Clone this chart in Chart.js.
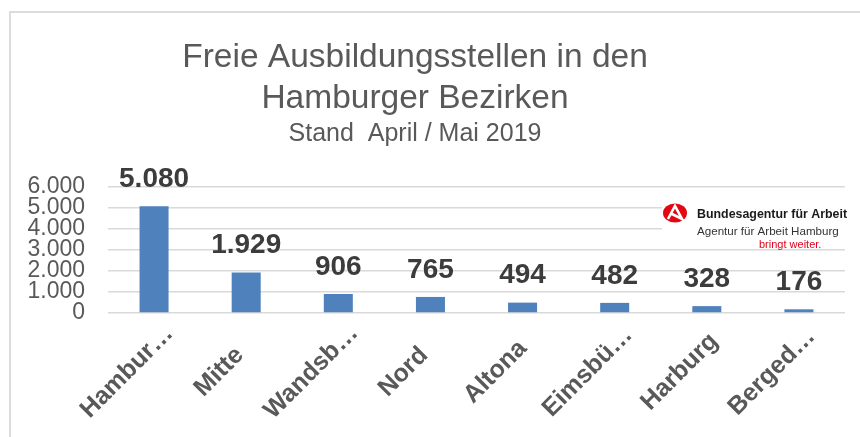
<!DOCTYPE html>
<html>
<head>
<meta charset="utf-8">
<script src="https://cdn.jsdelivr.net/npm/chart.js@4/dist/chart.umd.min.js"></script>
<style>
  html, body { margin: 0; padding: 0; background: #fff; }
  #wrap { width: 860px; height: 437px; position: relative; }
</style>
</head>
<body>
<div id="wrap"><canvas id="chart" width="860" height="437"></canvas></div>
<script>
  const districts = ['Hambur\u2026', 'Mitte', 'Wandsb\u2026', 'Nord', 'Altona', 'Eimsb\u00fc\u2026', 'Harburg', 'Berged\u2026'];
  const openPlaces = [5080, 1929, 906, 765, 494, 482, 328, 176];
  const yTicks = [0, 1000, 2000, 3000, 4000, 5000, 6000];
  const titleLines = ['Freie Ausbildungsstellen in den', 'Hamburger Bezirken'];
  const subtitleText = 'Stand  April / Mai 2019';

  const FONT = '"Liberation Sans", Arial, sans-serif';
  const textColor = '#595959';
  const gridColor = '#d9d9d9';
  const barColor = '#4f81bd';

  function fmt(v) {
    return Number(v).toLocaleString('de-DE');
  }

  // light frame round the chart, as in the screenshot
  const framePlugin = {
    id: 'frame',
    beforeDraw: function (chart) {
      const ctx = chart.ctx;
      ctx.save();
      ctx.strokeStyle = '#dcdcdc';
      ctx.lineWidth = 2;
      ctx.beginPath();
      ctx.moveTo(10, chart.height + 2);
      ctx.lineTo(10, 12);
      ctx.lineTo(chart.width + 2, 12);
      ctx.stroke();
      ctx.restore();
    }
  };

  // value labels above the bars
  const valueLabels = {
    id: 'valueLabels',
    afterDatasetsDraw: function (chart) {
      const ctx = chart.ctx;
      const meta = chart.getDatasetMeta(0);
      ctx.save();
      ctx.font = 'bold 28px ' + FONT;
      ctx.fillStyle = '#3c3c3c';
      ctx.textAlign = 'center';
      ctx.textBaseline = 'middle';
      meta.data.forEach(function (bar, i) {
        ctx.fillText(fmt(openPlaces[i]), bar.x, bar.y - 27);
      });
      ctx.restore();
    }
  };

  // category labels, rotated 45 degrees and centred like Excel does
  const categoryLabels = {
    id: 'categoryLabels',
    afterDraw: function (chart) {
      const ctx = chart.ctx;
      const xScale = chart.scales.x;
      ctx.save();
      ctx.font = 'bold 25px ' + FONT;
      ctx.fillStyle = textColor;
      ctx.textAlign = 'center';
      ctx.textBaseline = 'middle';
      districts.forEach(function (name, i) {
        const x = xScale.getPixelForTick(i);
        ctx.save();
        ctx.translate(x - 27, xScale.top + 59);
        ctx.rotate(-Math.PI / 4);
        ctx.fillText(name, 0, 0);
        ctx.restore();
      });
      ctx.restore();
    }
  };

  // agency logo in the top right of the plot
  const logoPlugin = {
    id: 'logo',
    afterDraw: function (chart) {
      const ctx = chart.ctx;
      ctx.save();
      ctx.fillStyle = '#fff';
      ctx.fillRect(662, 199, 198, 41);

      ctx.fillStyle = '#e30613';
      ctx.beginPath();
      ctx.ellipse(675, 213, 12, 9.5, 0, 0, Math.PI * 2);
      ctx.fill();
      ctx.strokeStyle = '#fff';
      ctx.lineWidth = 2.6;
      ctx.beginPath();
      ctx.moveTo(668, 219);
      ctx.lineTo(675, 206);
      ctx.lineTo(682, 219);
      ctx.lineTo(672, 214);
      ctx.stroke();

      ctx.textAlign = 'left';
      ctx.textBaseline = 'alphabetic';
      ctx.fillStyle = '#1a1a1a';
      ctx.font = 'bold 12.4px ' + FONT;
      ctx.fillText('Bundesagentur f\u00fcr Arbeit', 697, 218);
      ctx.fillStyle = '#333';
      ctx.font = '11.6px ' + FONT;
      ctx.fillText('Agentur f\u00fcr Arbeit Hamburg', 697, 235);
      ctx.fillStyle = '#e2001a';
      ctx.font = '11px ' + FONT;
      ctx.fillText('bringt weiter.', 759, 248);
      ctx.restore();
    }
  };

  new Chart(document.getElementById('chart'), {
    type: 'bar',
    data: {
      labels: districts,
      datasets: [
        {
          label: 'Freie Ausbildungsstellen',
          data: openPlaces,
          backgroundColor: barColor,
          borderWidth: 0,
          barPercentage: 0.315,
          categoryPercentage: 1,
        },
      ],
    },
    options: {
      responsive: false,
      animation: false,
      layout: { padding: { left: -15, right: 15, top: 0, bottom: 0 } },
      plugins: {
        legend: { display: false },
        tooltip: { enabled: false },
        title: {
          display: true,
          text: titleLines,
          color: textColor,
          font: { family: FONT, size: 33.5, weight: 'normal', lineHeight: '41.5px' },
          padding: { top: 37, bottom: 0 },
        },
        subtitle: {
          display: true,
          text: subtitleText,
          color: textColor,
          font: { family: FONT, size: 25, weight: 'normal', lineHeight: '28px' },
          padding: { top: 0.5, bottom: 38.5 },
        },
      },
      scales: {
        x: {
          grid: { display: false },
          border: { display: false },
          ticks: { display: false },
          afterFit: function (scale) {
            scale.height = 124;
          },
        },
        y: {
          min: 0,
          max: 6000,
          afterBuildTicks: function (scale) {
            scale.ticks = yTicks.map(function (v) { return { value: v }; });
          },
          grid: { color: gridColor, lineWidth: 1.5, drawTicks: false },
          border: { display: false },
          ticks: {
            color: textColor,
            font: { family: FONT, size: 23 },
            padding: 23,
            autoSkip: false,
            callback: function (value) {
              return fmt(value);
            },
          },
          afterFit: function (scale) {
            scale.width = 123;
          },
        },
      },
    },
    plugins: [framePlugin, valueLabels, categoryLabels, logoPlugin],
  });
</script>
</body>
</html>
